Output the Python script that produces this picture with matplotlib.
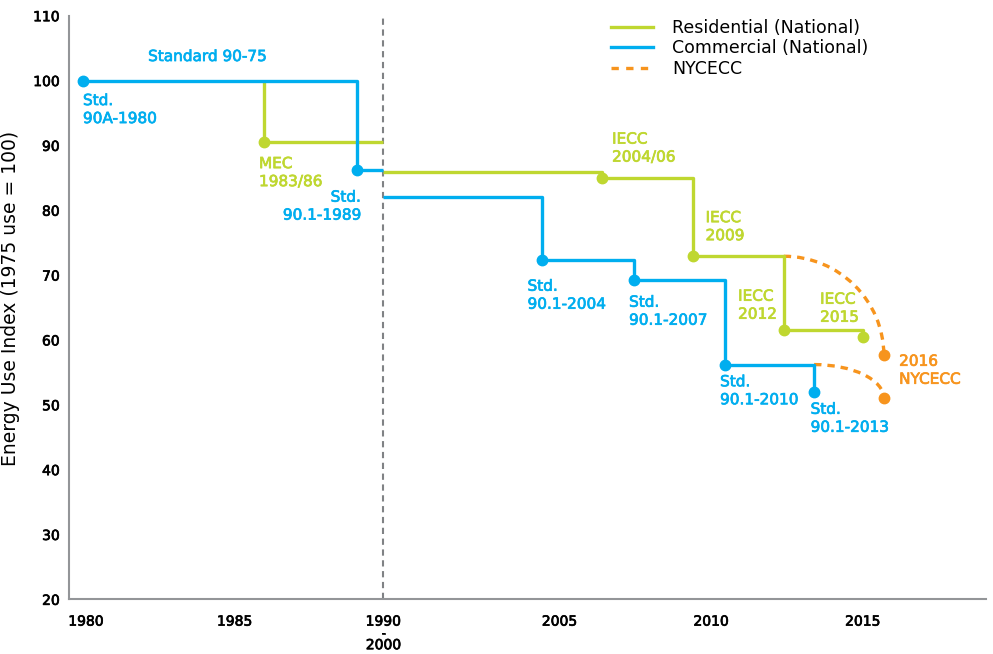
import numpy as np
import matplotlib
matplotlib.use('Agg')
import matplotlib.pyplot as plt
import matplotlib.patheffects as pe
from matplotlib.path import Path
from matplotlib.patches import PathPatch
from matplotlib.lines import Line2D

GREEN = '#BFD730'
BLUE = '#00AEEF'
ORANGE = '#F7941D'
GREY = '#939598'

# data (years, index values)
res_early_years = [1986.0, 1986.0, 1990.0]
res_early_vals = [100.0, 90.5, 90.5]
res_years = [2000.0, 2006.4, 2009.4, 2012.4, 2015.0]
res_vals = [85.9, 85.0, 72.9, 61.5, 60.5]

com_early_years = [1979.9, 1989.1, 1990.0]
com_early_vals = [100.0, 86.2, 86.2]
com_years = [2000.0, 2004.5, 2007.45, 2010.45, 2013.4]
com_vals = [82.0, 72.3, 69.3, 56.2, 51.9]

nyc_start_years = [2012.4, 2013.4]
nyc_start_vals = [72.9, 56.2]
nyc_end_years = [2015.7, 2015.7]
nyc_end_vals = [57.6, 51.0]

tick_years = [1980, 1985, 1990, 2005, 2010, 2015]
tick_labels = ['1980', '1985', '1990\n-\n2000', '2005', '2010', '2015']


def xpos(year):
    # broken axis: 1990-2000 collapsed onto one position
    year = np.asarray(year, dtype=float)
    return np.where(year <= 1990, year - 1980,
                    np.where(year < 2005, 10 + (year - 2000) * 1.184,
                             15.92 + (year - 2005) * 1.02))


def ypos_text(px):
    return 110 - (px - 15.7) / 6.48


def xpos_text(px):
    return (px - 86) / 29.73


def heavy(color, w=0.5):
    return [pe.withStroke(linewidth=w, foreground=color)]


fig = plt.figure(figsize=(9.93, 6.54), dpi=100)
ax = fig.add_axes([0.0698, 0.0836, 0.9232, 0.8924])

lw = 2.4
ms = 7.5

# residential
ax.plot(xpos(res_early_years), res_early_vals, color=GREEN, lw=lw, drawstyle='steps-post',
        solid_capstyle='butt')
ax.plot(xpos(res_years), res_vals, color=GREEN, lw=lw, drawstyle='steps-post',
        solid_capstyle='butt')
ax.plot(xpos([res_early_years[1]]), [res_early_vals[1]], 'o', color=GREEN, ms=ms)
ax.plot(xpos(res_years[1:]), res_vals[1:], 'o', color=GREEN, ms=ms)

# commercial
ax.plot(xpos(com_early_years), com_early_vals, color=BLUE, lw=lw, drawstyle='steps-post',
        solid_capstyle='butt')
ax.plot(xpos(com_years), com_vals, color=BLUE, lw=lw, drawstyle='steps-post',
        solid_capstyle='butt')
ax.plot(xpos(com_early_years[:2]), com_early_vals[:2], 'o', color=BLUE, ms=ms)
ax.plot(xpos(com_years[1:]), com_vals[1:], 'o', color=BLUE, ms=ms)

# NYCECC curves (quarter-ellipse style bezier)
k = 0.552
for x0, y0, x1, y1 in zip(xpos(nyc_start_years), nyc_start_vals, xpos(nyc_end_years), nyc_end_vals):
    verts = [(x0, y0), (x0 + k * (x1 - x0), y0), (x1, y1 + k * (y0 - y1)), (x1, y1)]
    codes = [Path.MOVETO, Path.CURVE4, Path.CURVE4, Path.CURVE4]
    ax.add_patch(PathPatch(Path(verts, codes), fill=False, edgecolor=ORANGE, lw=lw,
                           linestyle=(0, (2.2, 1.8))))
ax.plot(xpos(nyc_end_years), nyc_end_vals, 'o', color=ORANGE, ms=ms, zorder=5)

# break line
ax.axvline(xpos(1990), color='#808285', lw=1.5, linestyle=(0, (3, 2.2)), zorder=0)

# annotations
notes = [
    ('Standard 90-75', 207.5, 56.5, BLUE, 'center'),
    ('Std.\n90A-1980', 83, 109.5, BLUE, 'left'),
    ('MEC\n1983/86', 259, 172.5, GREEN, 'left'),
    ('Std.\n90.1-1989', 361, 206, BLUE, 'right'),
    ('IECC\n2004/06', 612, 148, GREEN, 'left'),
    ('Std.\n90.1-2004', 527.5, 295, BLUE, 'left'),
    ('Std.\n90.1-2007', 629, 311, BLUE, 'left'),
    ('IECC\n2009', 705.5, 226.5, GREEN, 'left'),
    ('IECC\n2012', 738, 305, GREEN, 'left'),
    ('IECC\n2015', 820, 308, GREEN, 'left'),
    ('2016\nNYCECC', 899, 370, ORANGE, 'left'),
    ('Std.\n90.1-2010', 720, 390.5, BLUE, 'left'),
    ('Std.\n90.1-2013', 810.5, 418, BLUE, 'left'),
]
for txt, px, py, col, ha in notes:
    ax.text(xpos_text(px), ypos_text(py), txt, color=col, fontsize=11, ha=ha, va='center',
            linespacing=1.25, path_effects=heavy(col))

ax.set_xlim(-0.56, 30.27)
ax.set_ylim(20, 110)
ax.set_yticks(np.arange(20, 111, 10))
ax.set_xticks(xpos(tick_years))
ax.set_xticklabels(tick_labels)
for lbl in ax.get_xticklabels():
    lbl.set_linespacing(0.8)
for lbl in ax.get_xticklabels() + ax.get_yticklabels():
    lbl.set_path_effects(heavy('black', 0.5))
ax.tick_params(axis='both', length=0, labelsize=10)
ax.tick_params(axis='x', pad=11)
ax.tick_params(axis='y', pad=7)
ax.set_ylabel('Energy Use Index (1975 use = 100)', fontsize=13.5)
ax.yaxis.set_label_coords(-0.054, 0.516)

for s in ['top', 'right']:
    ax.spines[s].set_visible(False)
for s in ['left', 'bottom']:
    ax.spines[s].set_color(GREY)
    ax.spines[s].set_linewidth(1.5)

handles = [Line2D([], [], color=GREEN, lw=lw),
           Line2D([], [], color=BLUE, lw=lw),
           Line2D([], [], color=ORANGE, lw=lw, linestyle=(0, (2.2, 2.2)))]
ax.legend(handles, ['Residential (National)', 'Commercial (National)', 'NYCECC'],
          loc='upper left', bbox_to_anchor=(0.5734, 1.0214), frameon=False, fontsize=12.5,
          handlelength=2.45, handletextpad=1.1, labelspacing=0.15)

fig.savefig('out.png', dpi=100)
